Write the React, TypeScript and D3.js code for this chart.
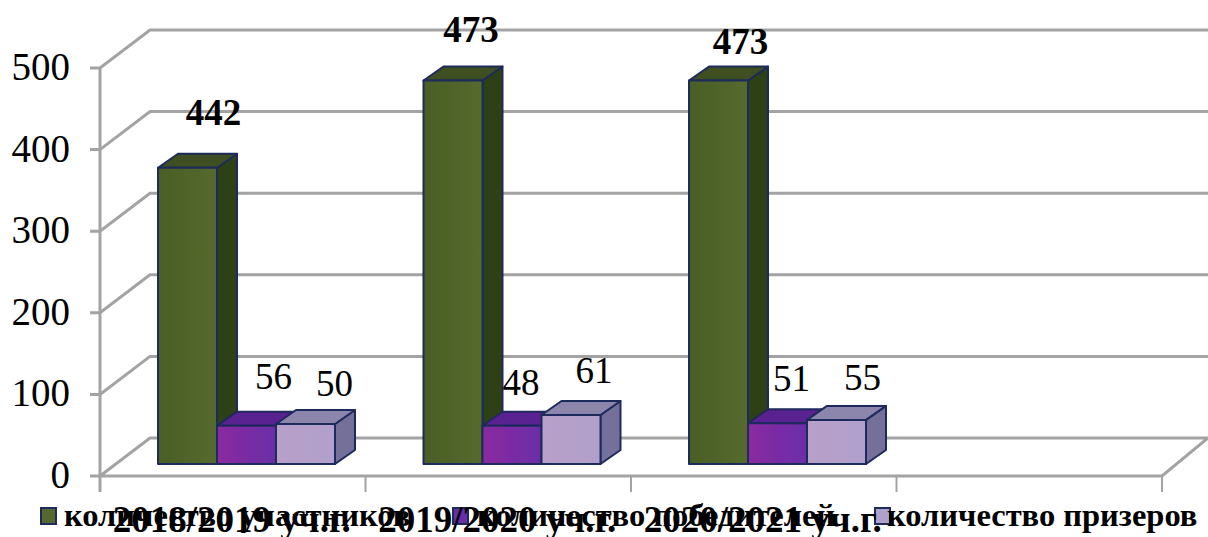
import React from 'react';
import * as d3 from 'd3';

const categories = ['2018/2019 уч.г.', '2019/2020 уч.г.', '2020/2021 уч.г.', ''];
const seriesNames = ['количество участников', 'количество победителей', 'количество призеров'];
// bar heights as drawn, the labels on the slide do not always agree with them
const participants = [363, 470, 470];
const winners = [47, 47, 50];
const prizeWinners = [49, 60, 54];
const participantLabels = ['442', '473', '473'];
const winnerLabels = ['56', '48', '51'];
const prizeLabels = ['50', '61', '55'];
const yTicks = [0, 100, 200, 300, 400, 500];

const width = 1208;
const height = 537;
const font = '"Liberation Serif", "Times New Roman", serif';

const x0 = d3.scaleBand<string>().domain(categories.map((c, i) => c + i)).range([100, 1162]);
const y = d3.scaleLinear().domain([0, 500]).range([476, 68]);
const x1 = d3.scaleBand<number>().domain([0, 1, 2]).range([58, 235]);

// 3d box offsets
const wallDx = 50;
const wallDy = -38;
const barDx = 20;
const barDy = -14;
const floorDrop = -12;

const gridColor = '#a3a3a3';
const colors = [
  { id: 'g0', a: '#4a5f24', b: '#55692e', top: '#3f5020', side: '#2f4018' },
  { id: 'g1', a: '#8a2aa0', b: '#6a2ea8', top: '#5a2090', side: '#4a2080' },
  { id: 'g2', a: '#b8a0c8', b: '#b0a0cc', top: '#8c86ac', side: '#74709a' },
];
const edge = '#1f2a5c';

// hand placed labels, relative to the top of each box
const series = [
  { values: participants, labels: participantLabels, bold: true, nudge: [[-24, -41], [-32, -36], [-28, -24]] },
  { values: winners, labels: winnerLabels, bold: false, nudge: [[7, -35], [-11, -29], [-6, -30]] },
  { values: prizeWinners, labels: prizeLabels, bold: false, nudge: [[9, -26], [3, -30], [6, -28]] },
];

const legendX = [[41, 64], [453, 477], [875, 887]];

const App: React.FC = () => {
  const bands = x0.domain();
  const floorY = y(0);
  return (
    <svg width={width} height={height} style={{ position: 'absolute', left: 0, top: 0, background: '#fff' }}>
      <defs>
        {colors.map(c => (
          <linearGradient key={c.id} id={c.id} x1="0" x2="1" y1="0" y2="0">
            <stop offset="0" stopColor={c.a} />
            <stop offset="1" stopColor={c.b} />
          </linearGradient>
        ))}
        <filter id="soft" x="-2%" y="-2%" width="104%" height="104%">
          <feGaussianBlur stdDeviation="0.6" />
        </filter>
      </defs>

      <g filter="url(#soft)">
        {/* walls and gridlines */}
        <g fill="none" stroke={gridColor} strokeWidth={3}>
          {yTicks.map(t => (
            <g key={t}>
              <path
                strokeWidth={t === 0 ? 0 : 3}
                d={`M90,${y(t)}L100,${y(t)}L${100 + wallDx},${y(t) + wallDy}L${width},${y(t) + wallDy}`}
              />
            </g>
          ))}
          <path d={`M90,${floorY}L1162,${floorY}L${1162 + wallDx - 4},${floorY + wallDy}L${100 + wallDx},${floorY + wallDy}L100,${floorY}`} />
          <path d={`M100,${y(500)}L100,${floorY + 16}`} />
          {bands.slice(1).map(b => (
            <path key={b} d={`M${x0(b)},${floorY}V${floorY + 16}`} strokeWidth={2} />
          ))}
          <path d={`M1162,${floorY}V${floorY + 16}`} strokeWidth={2} />
        </g>

        {/* bars */}
        {[0, 1, 2].map(g => {
          const bx = x0(bands[g])!;
          return (
            <g key={g} stroke={edge} strokeWidth={2} strokeLinejoin="round">
              {series.map((s, i) => {
                const c = colors[i];
                const left = bx + x1(i)!;
                const w = x1.bandwidth();
                const top = y(s.values[g]) + floorDrop;
                const base = floorY + floorDrop;
                return (
                  <g key={i}>
                    <path fill={c.side} d={`M${left + w},${top}l${barDx},${barDy}V${base + barDy}l${-barDx},${-barDy}Z`} />
                    <path fill={c.top} d={`M${left},${top}l${barDx},${barDy}h${w}l${-barDx},${-barDy}Z`} />
                    <rect x={left} y={top} width={w} height={base - top} fill={`url(#${c.id})`} />
                  </g>
                );
              })}
            </g>
          );
        })}
      </g>

      {/* data labels */}
      {[0, 1, 2].map(g =>
        series.map((s, i) => {
          const bx = x0(bands[g])! + x1(i)! + x1.bandwidth() / 2;
          const top = y(s.values[g]) + floorDrop + barDy;
          const [dx, dy] = s.nudge[g];
          return (
            <text
              key={`${g}-${i}`}
              x={bx + barDx + dx + (i === 0 ? 30 : 0)}
              y={top + dy + 12}
              textAnchor="middle"
              fontFamily={font}
              fontSize={37}
              fontWeight={s.bold ? 'bold' : 'normal'}
              fill="#000"
            >
              {s.labels[g]}
            </text>
          );
        })
      )}

      {/* y axis labels */}
      {yTicks.map(t => (
        <text key={t} x={70} y={y(t) + 12} textAnchor="end" fontFamily={font} fontSize={39} fill="#000">
          {t}
        </text>
      ))}

      {/* legend */}
      {seriesNames.map((name, i) => (
        <g key={name}>
          <rect x={legendX[i][0]} y={508} width={15} height={16} fill={colors[i].b} stroke={edge} strokeWidth={2} />
          <text x={legendX[i][1]} y={526} fontFamily={font} fontSize={32.5} fontWeight="bold" fill="#000">
            {name}
          </text>
        </g>
      ))}

      {/* category labels drawn over the legend, as in the slide */}
      {categories.slice(0, 3).map((c, i) => (
        <text
          key={c}
          x={x0(bands[i])! + x0.bandwidth() / 2 - 1}
          y={532}
          textAnchor="middle"
          fontFamily={font}
          fontSize={37}
          fontWeight="bold"
          fill="#000"
        >
          {c}
        </text>
      ))}
    </svg>
  );
};

export default App;
